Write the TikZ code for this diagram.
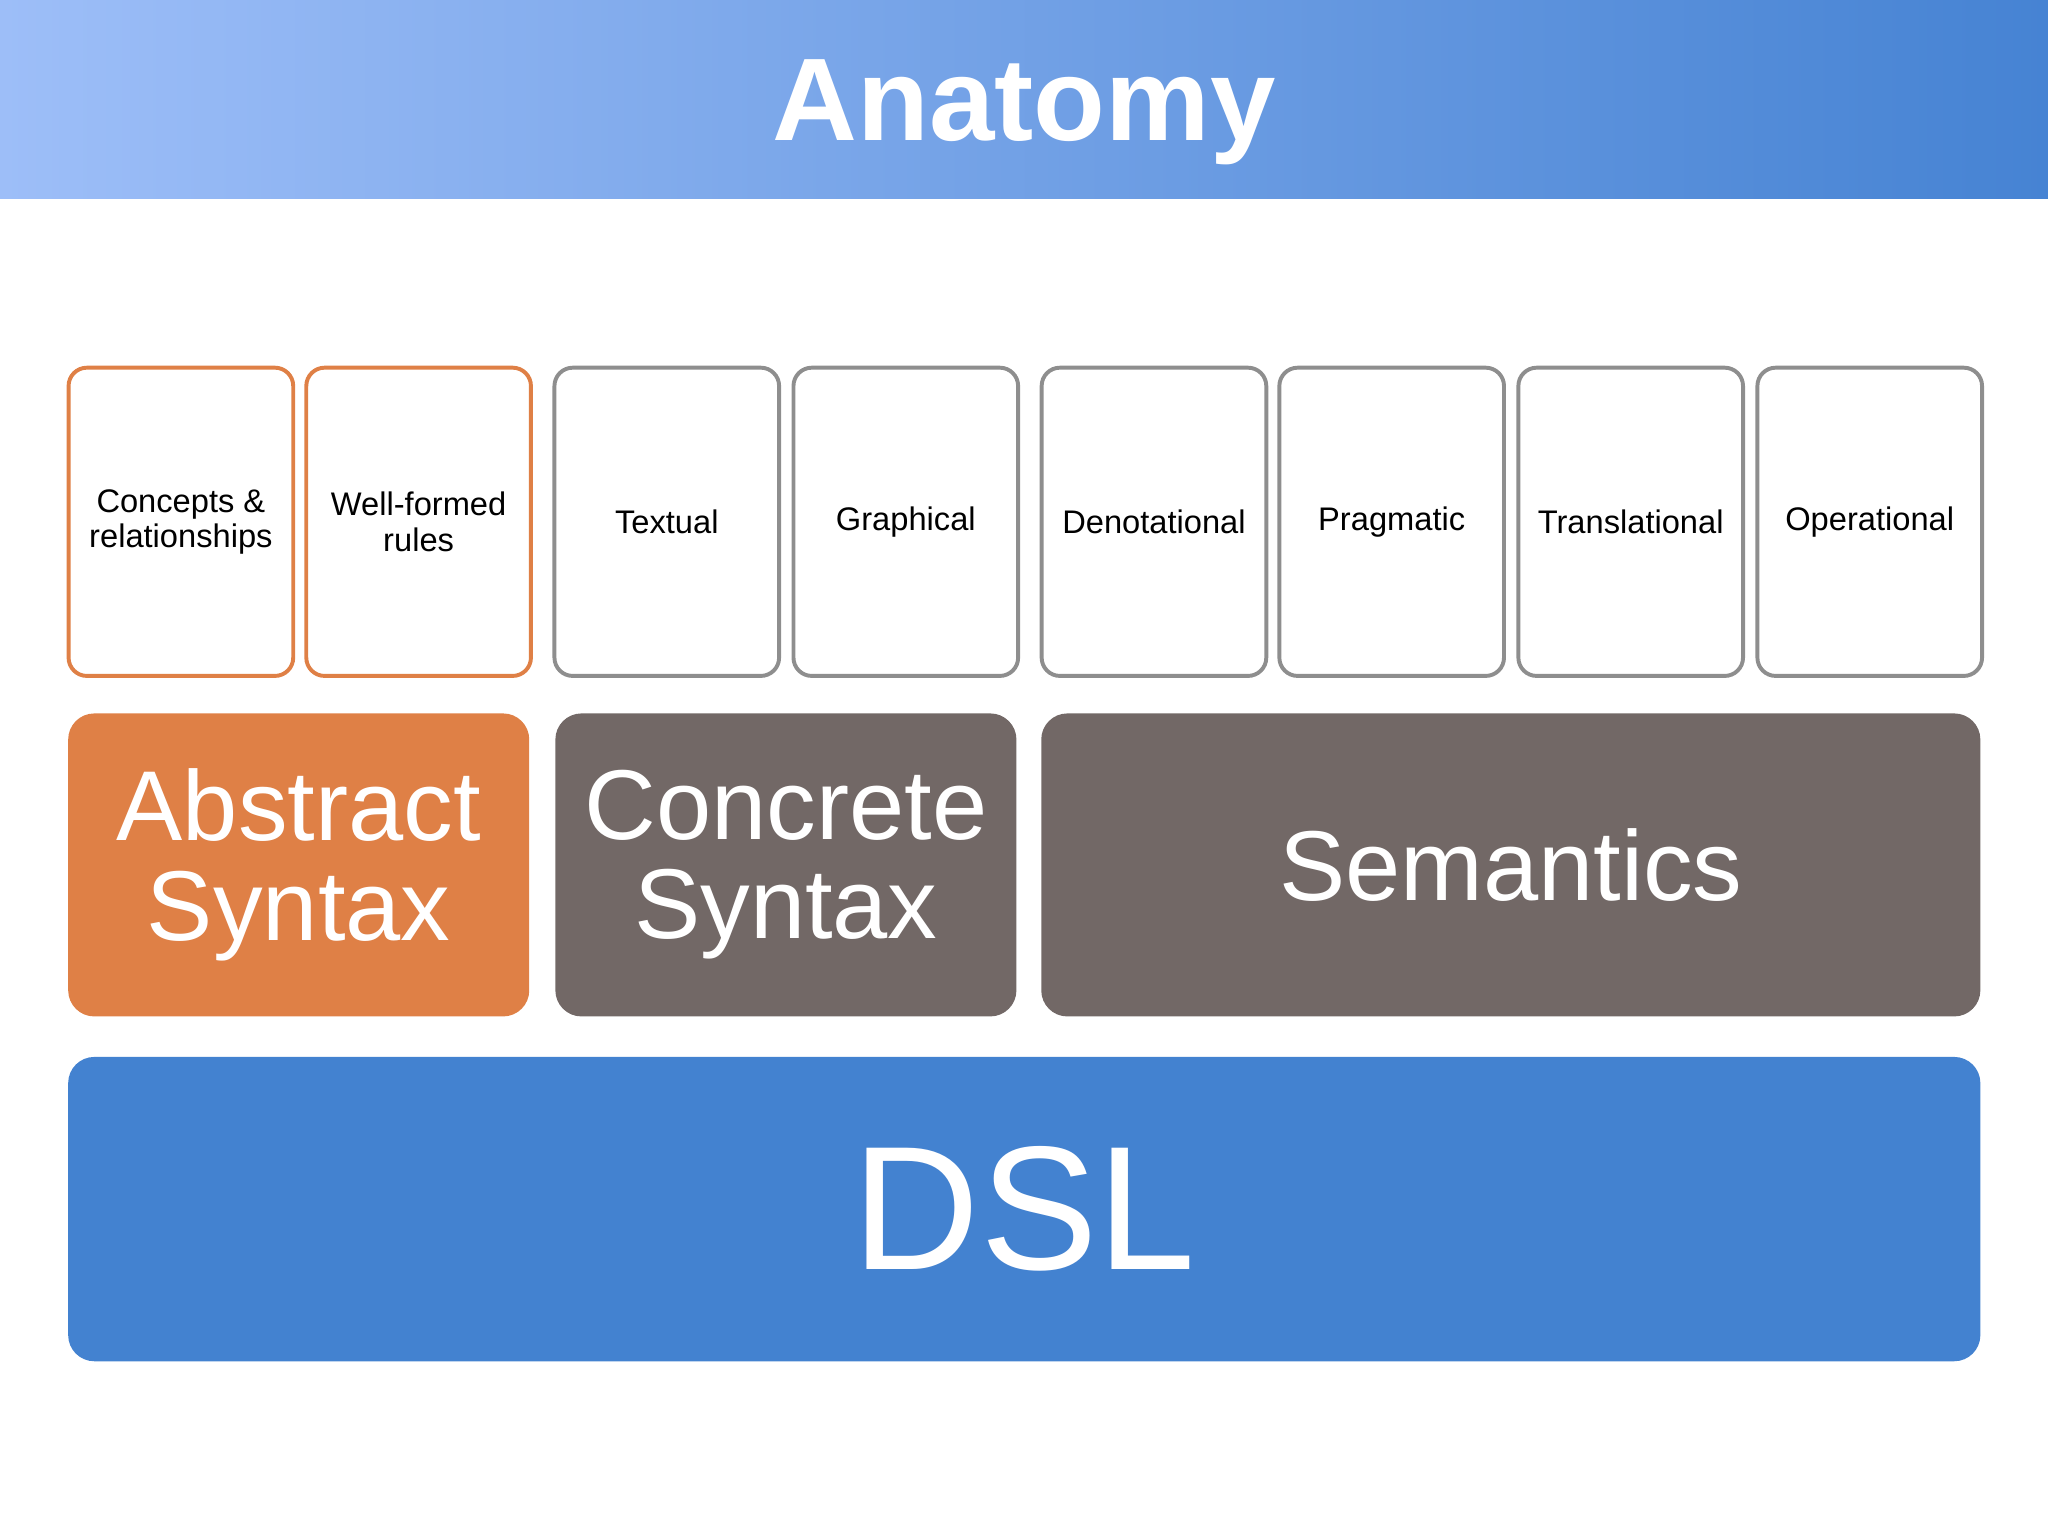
\documentclass[tikz,border=0pt]{standalone}
\usepackage{fontspec}
\setmainfont{Liberation Sans}
\definecolor{hdL}{HTML}{9DBEF8}
\definecolor{hdR}{HTML}{4683D3}
\definecolor{org}{HTML}{DF8046}
\definecolor{gry}{HTML}{726866}
\definecolor{gln}{HTML}{8E8E8E}
\definecolor{blu}{HTML}{4382D0}
\begin{document}
\begin{tikzpicture}[x=1pt,y=-1pt,
 small/.style={draw,line width=3pt,rounded corners=14pt,fill=white,minimum width=172pt,minimum height=236pt,align=center,font=\fontsize{25}{27}\selectfont,anchor=north west},
 big/.style={rounded corners=20pt,text=white,minimum height=232pt,align=center,anchor=north west,font=\fontsize{76}{76}\selectfont}]
\useasboundingbox (0,0) rectangle (1568,1176);
\fill[left color=hdL,right color=hdR] (0,0) rectangle (1568,152);
\node[font=\fontsize{90}{90}\selectfont\bfseries,text=white] (title) at (784,86) {Anatomy};
\foreach \n/\x/\c/\t in {a/51/org/{Concepts \&\\relationships},b/233/org/{Well-formed\\rules},c/423/gln/Textual,d/606/gln/Graphical,e/796/gln/Denotational,f/978/gln/Pragmatic,g/1161/gln/Translational,h/1344/gln/Operational}
  \node[small,draw=\c] (\n) at (\x,280) {\t};
\node[big,fill=org,minimum width=353pt] (abs) at (52,546) {Abstract\\Syntax};
\node[big,fill=gry,minimum width=353pt] (con) at (425,546) {Concrete\\Syntax};
\node[big,fill=gry,minimum width=719pt] (sem) at (797,546) {Semantics};
\node[big,fill=blu,minimum width=1464pt,minimum height=233pt,font=\fontsize{135}{135}\selectfont] (dsl) at (52,809) {DSL};
\end{tikzpicture}
\end{document}
